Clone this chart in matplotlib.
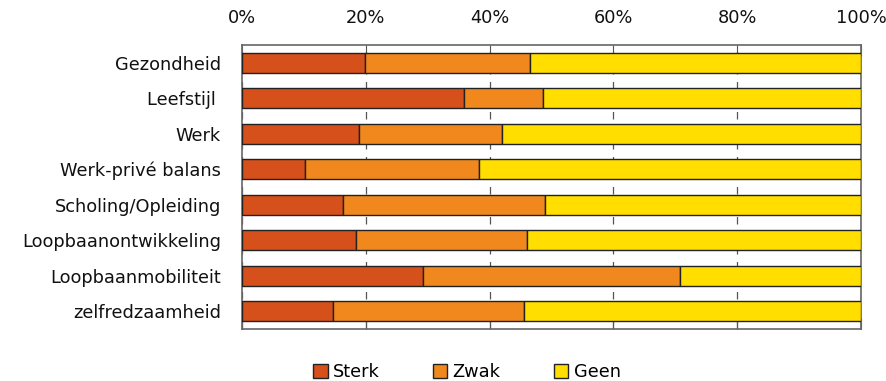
import numpy as np
import matplotlib.pyplot as plt

categories = ['Gezondheid', 'Leefstijl ', 'Werk', 'Werk-privé balans',
              'Scholing/Opleiding', 'Loopbaanontwikkeling',
              'Loopbaanmobiliteit', 'zelfredzaamheid']
sterk = [19.9, 35.9, 18.9, 10.2, 16.3, 18.4, 29.2, 14.7]
zwak = [26.6, 12.7, 23.1, 28.1, 32.7, 27.6, 41.6, 30.9]
geen = [100 - s - z for s, z in zip(sterk, zwak)]

series = [('Sterk', sterk, '#D5501A'), ('Zwak', zwak, '#F0881E'), ('Geen', geen, '#FFDE00')]

fig = plt.figure(figsize=(8.87, 3.81), dpi=100)
ax = fig.add_axes([0.2728, 0.1365, 0.6979, 0.7454])

y = np.arange(len(categories))
left = np.zeros(len(categories))
for name, vals, col in series:
    ax.barh(y, vals, left=left, height=0.57, color=col, edgecolor='#222222',
            linewidth=1.0, label=name, zorder=3)
    left += np.array(vals)

ax.set_xlim(0, 100)
ax.set_ylim(len(categories) - 0.5, -0.5)
ax.set_yticks(y)
ax.set_yticklabels(categories, fontsize=12.8, color='#111111')
ax.set_xticks(np.arange(0, 101, 20))
ax.set_xticklabels([f'{v}%' for v in range(0, 101, 20)], fontsize=12.8, color='#111111')
ax.xaxis.tick_top()
ax.tick_params(axis='x', which='both', direction='in', top=True, bottom=True,
               length=8, color='#555555', pad=13)
ax.tick_params(axis='y', length=0, pad=15)
ax.grid(axis='x', linestyle=(0, (6, 6)), color='#555555', linewidth=0.9, zorder=0)
for s in ax.spines.values():
    s.set_color('#666666')
    s.set_linewidth(1.2)

ax.legend(loc='upper center', bbox_to_anchor=(0.3635, -0.083), ncol=3, frameon=False,
          fontsize=12.8, handlelength=0.8, handleheight=0.8, handletextpad=0.3,
          columnspacing=3.0, borderaxespad=0.2)

fig.savefig('out.png', dpi=100)
